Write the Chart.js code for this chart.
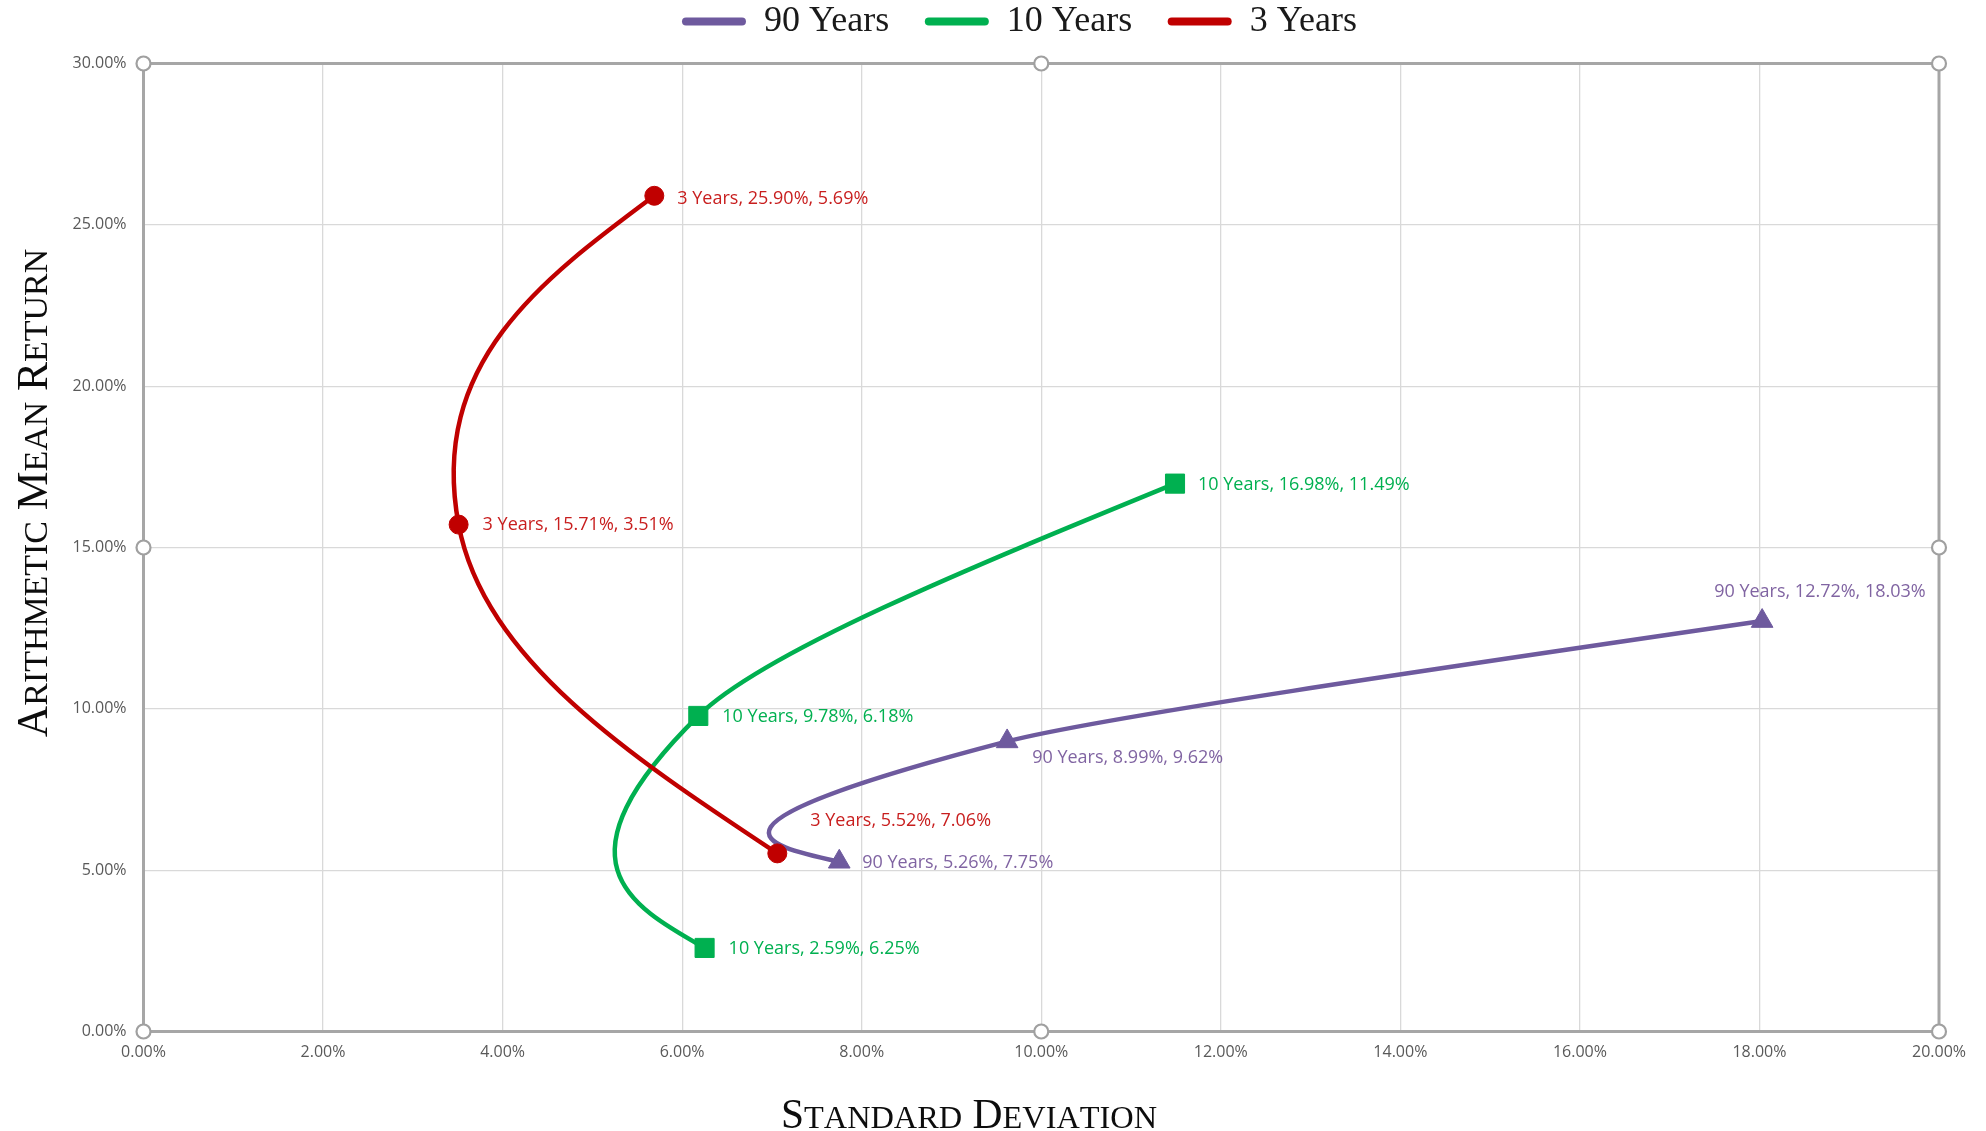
<!DOCTYPE html>
<html>
<head>
<meta charset="utf-8">
<title>Risk vs Return</title>
<script src="https://cdn.jsdelivr.net/npm/chart.js@4.4.1/dist/chart.umd.min.js"></script>
<style>
  html, body { margin: 0; padding: 0; background: #fff; }
  #wrap { width: 1986px; height: 1131px; }
</style>
</head>
<body>
<div id="wrap"><canvas id="riskChart"></canvas></div>
<script>
// Data (values in percent)
const seriesNames = ['90 Years', '10 Years', '3 Years'];
const sd90 = [18.03, 9.62, 7.75];
const ret90 = [12.72, 8.99, 5.26];
const sd10 = [11.49, 6.18, 6.25];
const ret10 = [16.98, 9.78, 2.59];
const sd3 = [5.69, 3.51, 7.06];
const ret3 = [25.90, 15.71, 5.52];
const xTickValues = [0, 2, 4, 6, 8, 10, 12, 14, 16, 18, 20];
const yTickValues = [0, 5, 10, 15, 20, 25, 30];

const SMOOTHING = 0.45;
const pct = v => v.toFixed(2) + '%';
const toPoints = (xs, ys) => xs.map((x, i) => ({ x: x, y: ys[i] }));

// Excel-like smoothing: recompute the bezier control points of each line
const excelSmooth = {
    id: 'excelSmooth',
    beforeDatasetDraw(chart, args) {
        const meta = args.meta;
        const line = meta.dataset;
        const pts = meta.data;
        if (!line || pts.length < 3) return;
        line.updateControlPoints(chart.chartArea, 'x');
        const n = pts.length;
        for (let i = 1; i < n - 1; i++) {
            const prev = pts[i - 1], cur = pts[i], next = pts[i + 1];
            const d01 = Math.hypot(cur.x - prev.x, cur.y - prev.y);
            const d12 = Math.hypot(next.x - cur.x, next.y - cur.y);
            const dx = next.x - prev.x, dy = next.y - prev.y;
            const back = SMOOTHING * d12 / (d01 + d12);
            const fwd = SMOOTHING * d01 / (d01 + d12);
            cur.cp1x = cur.x - back * dx; cur.cp1y = cur.y - back * dy;
            cur.cp2x = cur.x + fwd * dx; cur.cp2y = cur.y + fwd * dy;
        }
        // natural ends
        const a = pts[0], b = pts[1];
        a.cp2x = (a.x + b.cp1x) / 2; a.cp2y = (a.y + b.cp1y) / 2;
        const z = pts[n - 1], w = pts[n - 2];
        z.cp1x = (z.x + w.cp2x) / 2; z.cp1y = (z.y + w.cp2y) / 2;
    }
};

// Legend: extra room below it, and nudge it right like the original
const legendSpace = {
    id: 'legendSpace',
    beforeLayout(chart) {
        const lg = chart.legend;
        if (!lg || lg._spacePatched) return;
        const fit = lg.fit;
        lg.fit = function () { fit.call(this); this.height = 95.5; };
        lg._spacePatched = true;
    },
    afterLayout(chart) {
        const lg = chart.legend;
        if (!lg) return;
        lg.left += 50;
        lg.right += 50;
    }
};

// Plot area outline (under the series) and selection handles (on top)
const plotFrame = {
    id: 'plotFrame',
    beforeDatasetsDraw(chart) {
        const { ctx, chartArea: a } = chart;
        ctx.save();
        ctx.strokeStyle = '#A6A6A6';
        ctx.lineWidth = 3;
        ctx.strokeRect(a.left, a.top, a.right - a.left, a.bottom - a.top);
        ctx.restore();
    },
    afterDraw(chart) {
        const { ctx, chartArea: a } = chart;
        const mx = (a.left + a.right) / 2, my = (a.top + a.bottom) / 2;
        const spots = [[a.left, a.top], [mx, a.top], [a.right, a.top], [a.left, my],
                       [a.right, my], [a.left, a.bottom], [mx, a.bottom], [a.right, a.bottom]];
        ctx.save();
        ctx.fillStyle = '#fff';
        ctx.strokeStyle = '#A0A0A0';
        ctx.lineWidth = 2.2;
        spots.forEach(([x, y]) => {
            ctx.beginPath();
            ctx.arc(x, y, 7, 0, Math.PI * 2);
            ctx.fill();
            ctx.stroke();
        });
        ctx.restore();
    }
};

// Data labels "Series, return, sd"
const pointLabels = {
    id: 'pointLabels',
    afterDatasetsDraw(chart) {
        const ctx = chart.ctx;
        ctx.save();
        ctx.font = '18px "Open Sans"';
        ctx.textAlign = 'left';
        ctx.textBaseline = 'middle';
        chart.data.datasets.forEach((ds, i) => {
            const meta = chart.getDatasetMeta(i);
            ctx.fillStyle = ds.labelColor;
            meta.data.forEach((pt, j) => {
                const raw = ds.data[j];
                const off = ds.labelOffsets[j];
                const text = ds.label + ', ' + pct(raw.y) + ', ' + pct(raw.x);
                ctx.fillText(text, pt.x + off[0], pt.y + off[1]);
            });
        });
        ctx.restore();
    }
};

// Small-caps axis titles
function drawSmallCaps(ctx, text, cx, baseline, size) {
    const parts = [];
    let total = 0;
    for (const ch of text) {
        const small = ch !== ch.toUpperCase();
        const s = small ? size * 0.78 : size;
        ctx.font = s + 'px "Liberation Serif"';
        const wdt = ctx.measureText(ch.toUpperCase()).width;
        parts.push({ ch: ch.toUpperCase(), s, wdt });
        total += wdt;
    }
    let x = cx - total / 2;
    parts.forEach(p => {
        ctx.font = p.s + 'px "Liberation Serif"';
        ctx.fillText(p.ch, x, baseline);
        x += p.wdt;
    });
}

const axisTitles = {
    id: 'axisTitles',
    afterDraw(chart) {
        const ctx = chart.ctx;
        ctx.save();
        ctx.fillStyle = '#0D0D0D';
        ctx.textAlign = 'left';
        ctx.textBaseline = 'alphabetic';
        drawSmallCaps(ctx, 'Standard Deviation', 969, 1128, 41.5);
        ctx.translate(47, 493);
        ctx.rotate(-Math.PI / 2);
        drawSmallCaps(ctx, 'Arithmetic Mean Return', 0, 0, 43.5);
        ctx.restore();
    }
};

const ctx = document.getElementById('riskChart').getContext('2d');
const riskChart = new Chart(ctx, {
    type: 'line',
    data: {
        datasets: [{
            label: seriesNames[0],
            data: toPoints(sd90, ret90),
            borderColor: '#6E5A9E',
            backgroundColor: '#6E5A9E',
            pointStyle: 'triangle',
            pointRadius: 12.5,
            labelColor: '#8064A2',
            labelOffsets: [[-48, -29], [25, 16], [23, 1]],
            order: 3
        }, {
            label: seriesNames[1],
            data: toPoints(sd10, ret10),
            borderColor: '#00B050',
            backgroundColor: '#00B050',
            pointStyle: 'rect',
            pointRadius: 13.5,
            labelColor: '#00B050',
            labelOffsets: [[23, 1], [24, 1], [24, 1]],
            order: 2
        }, {
            label: seriesNames[2],
            data: toPoints(sd3, ret3),
            borderColor: '#C00000',
            backgroundColor: '#C00000',
            pointStyle: 'circle',
            pointRadius: 9.5,
            labelColor: '#C81E1E',
            labelOffsets: [[23, 3], [24, 0], [33, -33]],
            order: 1
        }]
    },
    options: {
        responsive: true,
        maintainAspectRatio: false,
        animation: false,
        events: [],
        layout: { padding: { left: 0, right: 47, top: -32, bottom: 0 } },
        elements: {
            line: { borderWidth: 4.5, tension: 0.4, fill: false },
            point: { borderWidth: 1 }
        },
        plugins: {
            tooltip: { enabled: false },
            legend: {
                position: 'top',
                labels: {
                    boxWidth: 64,
                    boxHeight: 8,
                    padding: 35.5,
                    color: '#1A1A1A',
                    font: { family: '"Liberation Serif"', size: 36 },
                    useBorderRadius: true,
                    borderRadius: 4,
                    sort: (a, b) => a.datasetIndex - b.datasetIndex,
                    generateLabels: chart =>
                        Chart.defaults.plugins.legend.labels.generateLabels(chart)
                            .map(l => Object.assign(l, { lineWidth: 0, fillStyle: l.strokeStyle }))
                }
            }
        },
        scales: {
            x: {
                type: 'linear',
                min: 0,
                max: 20,
                afterBuildTicks: s => { s.ticks = xTickValues.map(v => ({ value: v })); },
                afterFit: s => { s.height = 99.5; },
                grid: { color: '#D9D9D9', lineWidth: 1.3, drawTicks: false },
                border: { display: false },
                ticks: {
                    padding: 11,
                    color: '#595959',
                    font: { family: '"Open Sans"', size: 16 },
                    maxRotation: 0,
                    callback: v => pct(v)
                }
            },
            y: {
                min: 0,
                max: 30,
                afterBuildTicks: s => { s.ticks = yTickValues.map(v => ({ value: v })); },
                afterFit: s => { s.width = 143.5; },
                grid: { color: '#D9D9D9', lineWidth: 1.3, drawTicks: false },
                border: { display: false },
                ticks: {
                    padding: 17,
                    color: '#595959',
                    font: { family: '"Open Sans"', size: 16 },
                    callback: v => pct(v)
                }
            }
        }
    },
    plugins: [legendSpace, excelSmooth, plotFrame, pointLabels, axisTitles]
});
</script>
</body>
</html>
